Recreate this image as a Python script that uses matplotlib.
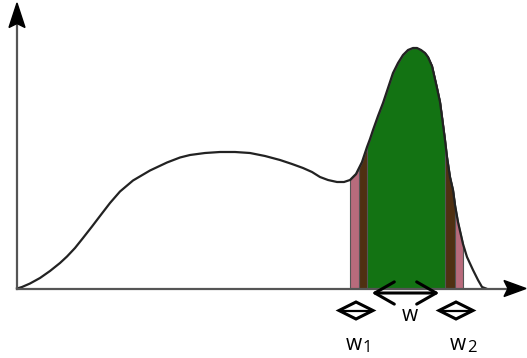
import numpy as np
import matplotlib.pyplot as plt
from matplotlib.patches import FancyArrowPatch, Polygon

# Curve: position along the axis and height above the baseline
xs = np.array([17, 22, 30, 40, 50, 60, 67, 75, 83, 92, 100, 110, 120, 133, 150, 167, 180, 190,
               205, 220, 235, 250, 265, 280, 292, 303, 312, 320, 328, 337, 344, 350, 356, 359,
               362, 365, 367, 370, 373, 378, 383, 388, 393, 398, 403, 408, 413, 417, 421, 425,
               428, 432, 437, 440, 442, 445, 447, 450, 453, 455, 458, 463, 467, 473, 478, 482, 486])
heights = np.array([0, 1.5, 5, 10.5, 17.5, 25.5, 32, 40.5, 50.5, 62, 72.5, 85.5, 97, 108,
                    118, 126, 131, 133.5, 135.5, 136.5, 136.5, 135.5, 132.5, 128.5, 124.5,
                    120.5, 116.5, 111.5, 108.5, 106.5, 106.5, 108.5, 114.5, 120.5, 126.5, 135.5,
                    141.5, 149.5, 158.5, 172.5, 185.5, 200.5, 215.5, 225.5, 233.5, 238.5, 240.5,
                    240.5, 238.5, 235.5, 231.5, 222.5, 200.5, 186.5, 171.5, 148.5, 131.5, 111.5,
                    98.5, 83.5, 66.5, 44.5, 31.5, 18.5, 8.5, 1.5, 0])

# Shaded windows: (start, end, colour), outermost first
bands = [(350, 463, '#b86b7c'), (359, 455, '#4f3012'), (367, 445, '#137313')]

fig = plt.figure(figsize=(5.27, 3.58), dpi=100)
ax = fig.add_axes([0, 0, 1, 1])
ax.set_xlim(0, 527)
ax.set_ylim(-69.5, 288.5)
ax.axis('off')

for lo, hi, col in bands:
    ax.fill_between(xs, 0, heights, where=(xs >= lo) & (xs <= hi), color=col,
                    edgecolor='#555555', linewidth=0.8, zorder=2)

ax.plot(xs, heights, color='#222222', lw=1.6, zorder=3, solid_joinstyle='round')

# axes with arrow heads
ax.plot([17, 17], [0, 270], color='#555555', lw=1.6, zorder=4)
ax.plot([17, 512], [0, 0], color='#555555', lw=1.6, zorder=4)
ax.add_patch(Polygon([[17, 285.5], [9, 261], [17, 265], [25, 261]], closed=True,
                     color='black', zorder=5))
ax.add_patch(Polygon([[526, 0], [504, 8], [508, 0], [504, -8]], closed=True,
                     color='black', zorder=5))

# width arrow
ax.add_patch(FancyArrowPatch((369, -4.5), (442, -4.5), arrowstyle='<->,head_length=0.7,head_width=0.4',
                             mutation_scale=20, color='black', lw=2.2, zorder=5))

# small diamonds for w1 and w2
for cx in [356, 456]:
    ax.add_patch(Polygon([[cx - 17, -22], [cx, -13.5], [cx + 17, -22], [cx, -30.5]], closed=True,
                         fill=False, edgecolor='black', lw=2.2, zorder=5))
    ax.plot([cx - 15, cx + 15], [-22, -22], color='black', lw=1.6, zorder=5)

font = 'Open Sans'
ax.text(410, -27, 'w', fontsize=15, family=font, ha='center', va='center')
ax.text(354, -56, 'w', fontsize=15, family=font, ha='center', va='center')
ax.text(367, -60, '1', fontsize=12, family=font, ha='center', va='center')
ax.text(458, -56, 'w', fontsize=15, family=font, ha='center', va='center')
ax.text(472, -60, '2', fontsize=12, family=font, ha='center', va='center')

plt.savefig('out.png', dpi=100)
